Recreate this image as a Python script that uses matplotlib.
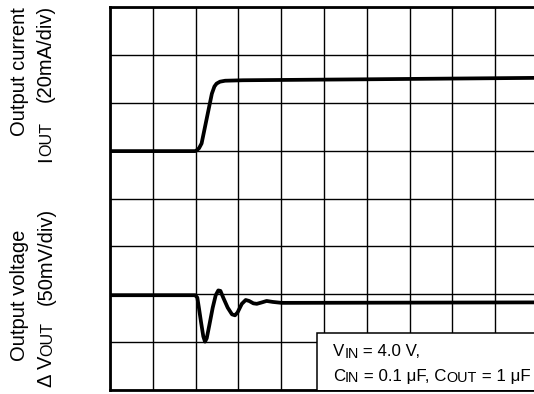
import matplotlib
matplotlib.use("Agg")
import matplotlib.pyplot as plt
from matplotlib.patches import Rectangle

plt.rcParams['font.family'] = ['Liberation Sans', 'DejaVu Sans']

# Output current trace (divisions)
cur_t = [0.0, 1.99, 2.03, 2.08, 2.14, 2.26, 2.38, 2.44, 2.49, 2.57, 2.69, 3.11, 6.0, 10.0]
cur_y = [4.99, 4.99, 5.01, 5.05, 5.15, 5.67, 6.19, 6.34, 6.40, 6.44, 6.46, 6.47, 6.49, 6.52]

# Output voltage trace (divisions)
vol_t = [0.0, 1.99, 2.04, 2.08, 2.13, 2.18, 2.22, 2.26, 2.32, 2.40, 2.47, 2.53, 2.58,
         2.65, 2.75, 2.85, 2.92, 2.98, 3.08, 3.17, 3.25, 3.35, 3.43, 3.55, 3.66, 3.80,
         4.01, 10.0]
vol_y = [1.98, 1.98, 1.93, 1.70, 1.40, 1.12, 1.01, 1.08, 1.35, 1.72, 1.98, 2.08, 2.07,
         1.92, 1.72, 1.58, 1.56, 1.62, 1.80, 1.88, 1.86, 1.81, 1.80, 1.83, 1.86, 1.84,
         1.82, 1.83]

x_div = list(range(11))
y_div = list(range(9))

W, H = 534, 394
fig = plt.figure(figsize=(W / 100, H / 100), dpi=100)
ax = fig.add_axes([110 / W, 1 - 390 / H, 428 / W, 383 / H])
ax.set_xlim(0, 10)
ax.set_ylim(0, 8)
ax.set_xticks(x_div)
ax.set_yticks(y_div)
ax.tick_params(length=0, labelbottom=False, labelleft=False)
ax.grid(True, color='black', lw=1.0)
for s in ax.spines.values():
    s.set_linewidth(2.0)

ax.plot(cur_t, cur_y, color='black', lw=2.7, solid_joinstyle='round',
        solid_capstyle='round', zorder=4)
ax.plot(vol_t, vol_y, color='black', lw=2.7, solid_joinstyle='round',
        solid_capstyle='round', zorder=4)

ax.add_patch(Rectangle((4.84, -0.5), 6.0, 1.69, facecolor='white',
                       edgecolor='black', lw=1.1, zorder=5))

renderer = fig.canvas.get_renderer()


def pieces(x0, y0, parts, fs, rot=0, sub_scale=0.85, sub_drop=1.5):
    """Draw text pieces starting at baseline point (x0, y0) in image px."""
    x, y = x0, y0
    for s, sub in parts:
        size = fs * (sub_scale if sub else 1.0)
        if rot == 0:
            tx, ty = x, y + (sub_drop if sub else 0)
        else:
            tx, ty = x + (sub_drop if sub else 0), y
        t = fig.text(tx / W, 1 - ty / H, s, fontsize=size, rotation=rot,
                     rotation_mode='anchor', ha='left', va='baseline', zorder=6)
        bb = t.get_window_extent(renderer)
        if rot == 0:
            x += bb.width
        else:
            y -= bb.height


fs_leg = 12.2
pieces(333, 356, [('V', False), ('IN', True), (' = 4.0 V,', False)], fs_leg)
pieces(333, 381, [('C', False), ('IN', True), (' = 0.1 μF, C', False),
                  ('OUT', True), (' = 1 μF', False)], fs_leg)

fs_lab = 14.5
fig.text(25 / W, 1 - 7 / H, 'Output current', rotation=90, rotation_mode='anchor',
         fontsize=fs_lab, ha='right', va='baseline')
fig.text(51 / W, 1 - 5 / H, '(20mA/div)', rotation=90, rotation_mode='anchor',
         fontsize=fs_lab, ha='right', va='baseline')
pieces(51, 162, [('I', False), ('OUT', True)], fs_lab, rot=90,
       sub_scale=0.8, sub_drop=0)

fig.text(25 / W, 1 - 230 / H, 'Output voltage', rotation=90, rotation_mode='anchor',
         fontsize=fs_lab, ha='right', va='baseline')
fig.text(52 / W, 1 - 208 / H, '(50mV/div)', rotation=90, rotation_mode='anchor',
         fontsize=fs_lab, ha='right', va='baseline')
pieces(52, 387, [('Δ V', False), ('OUT', True)], fs_lab, rot=90,
       sub_scale=0.8, sub_drop=0)

fig.savefig('out.png', dpi=100)
